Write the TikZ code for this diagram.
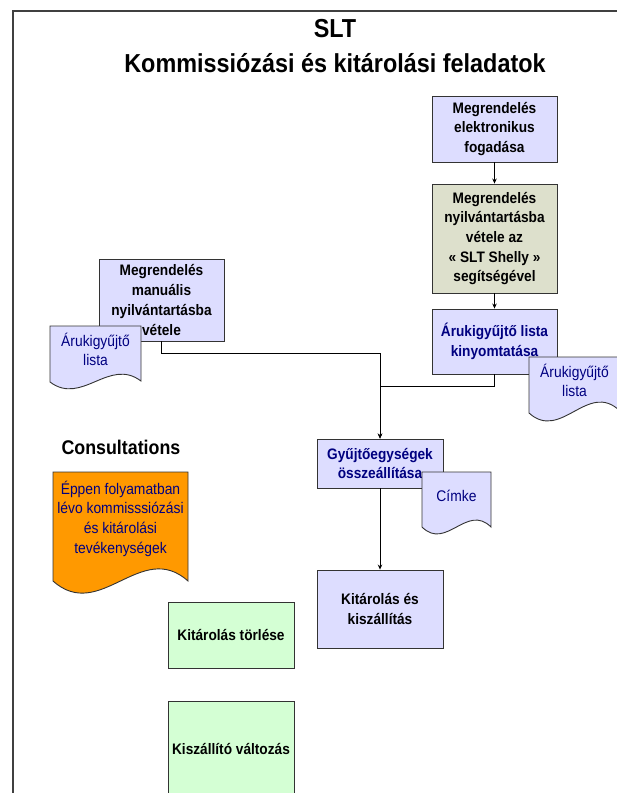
\documentclass[tikz,border=0pt]{standalone}
\usepackage{fontspec}
\setmainfont{Liberation Sans}[FakeStretch=0.9]
\usetikzlibrary{arrows.meta}
\definecolor{lavender}{RGB}{221,221,255}
\definecolor{sage}{RGB}{221,224,204}
\definecolor{mint}{RGB}{212,255,212}
\definecolor{amber}{RGB}{255,153,0}
\definecolor{navyblue}{RGB}{0,0,128}
\begin{document}
\begin{tikzpicture}[x=1pt,y=-1pt,
    box/.style={draw=black!80, line width=0.9pt, minimum width=125pt, inner sep=0pt, align=center, font=\fontsize{15.2}{19.7}\bfseries\selectfont},
    doc/.style={draw=black!80, line width=0.9pt},
    doctext/.style={align=center, text=navyblue, inner sep=0pt, font=\fontsize{15.4}{19.7}\selectfont},
    conn/.style={line width=0.8pt, -{Stealth[length=5pt,width=4.5pt]}}]
        \useasboundingbox (0,0) rectangle (617,793);
        \draw[black!75, line width=1.3pt] (625,11) -- (13,11) -- (13,800);

        \node[align=center, font=\fontsize{26}{35}\bfseries\selectfont] (title) at (335,46) {SLT\\Kommissiózási és kitárolási feladatok};

        \node[box, fill=lavender, minimum height=66pt] (recv) at (494.5,129) {Megrendelés\\elektronikus\\fogadása};
        \node[box, fill=sage, minimum height=109pt] (reg) at (494.5,238.5) {Megrendelés\\nyilvántartásba\\vétele az\\« SLT Shelly »\\segítségével};
        \node[box, fill=lavender, minimum height=65pt, text=navyblue] (print) at (494.5,341.5) {Árukigyűjtő lista\\kinyomtatása};
        \node[box, fill=lavender, minimum height=82pt] (manual) at (161.5,300) {Megrendelés\\manuális\\nyilvántartásba\\vétele};
        \node[box, fill=lavender, minimum width=126pt, minimum height=49pt, text=navyblue] (collect) at (380,463.5) {Gyűjtőegységek\\összeállítása};
        \node[box, fill=lavender, minimum width=126pt, minimum height=78pt] (ship) at (380,609) {Kitárolás és\\kiszállítás};
        \node[box, fill=mint, minimum width=126pt, minimum height=66pt] (cancel) at (231,635) {Kitárolás törlése};
        \node[box, fill=mint, minimum width=126pt, minimum height=96pt] (carrier) at (231,749) {Kiszállító változás};

        \node[anchor=west, font=\fontsize{19.8}{20}\bfseries\selectfont] (consult) at (58,447) {Consultations};

        \draw[conn] (recv.south) -- (reg.north);
        \draw[conn] (reg.south) -- (print.north);
        \draw[conn] (manual.south) -- ++(0,12) -| (collect.north);
        \draw[conn] (print.south) -- ++(0,12) -| (collect.north);
        \draw[conn] (collect.south) -- (ship.north);

        \draw[doc, fill=lavender] (50,326) -- (141,326) -- (141,381) .. controls (109,357) and (82,406) .. (50,382) -- cycle;
        \draw[doc, fill=lavender] (529,357) -- (620,357) -- (620,411) .. controls (588,380) and (561,442) .. (529,413) -- cycle;
        \draw[doc, fill=lavender] (422,472) -- (491,472) -- (491,527) .. controls (467,503) and (446,551) .. (422,527) -- cycle;
        \draw[doc, fill=amber] (53,472) -- (188,472) -- (188,581) .. controls (141,539) and (100,623) .. (53,581) -- cycle;

        \node[doctext] (listL) at (95.5,349.5) {Árukigyűjtő\\lista};
        \node[doctext] (listR) at (574.5,380.5) {Árukigyűjtő\\lista};
        \node[doctext] (label) at (456.5,496) {Címke};
        \node[doctext] (running) at (120.5,518.5) {Éppen folyamatban\\lévo kommisssiózási\\és kitárolási\\tevékenységek};
    \end{tikzpicture}
\end{document}
